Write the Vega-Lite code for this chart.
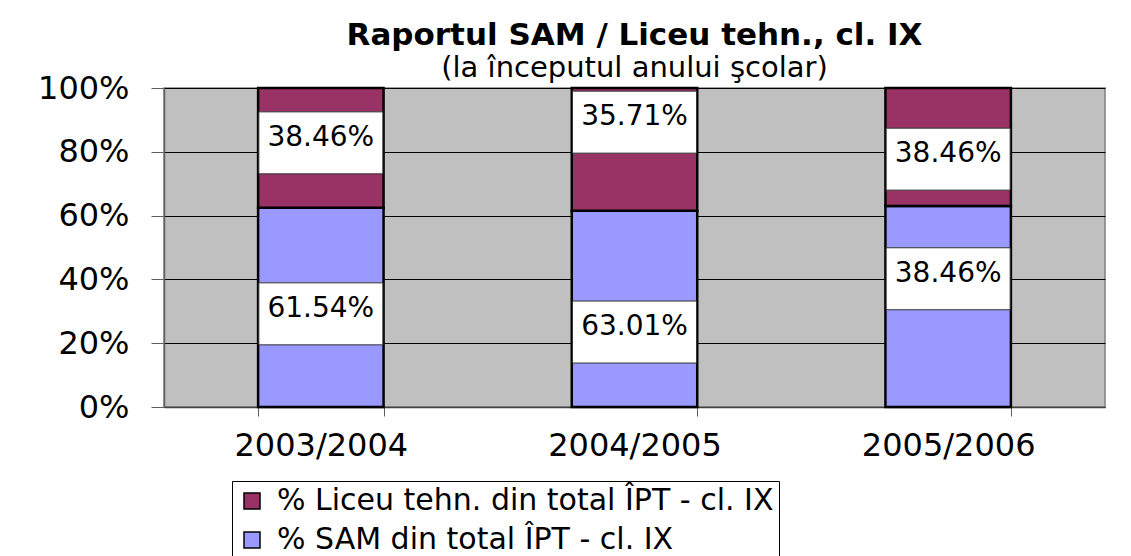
{
  "$schema": "https://vega.github.io/schema/vega-lite/v6.json",
  "width": 941,
  "height": 319,
  "autosize": {"type": "none"},
  "padding": {"left": 164, "top": 88, "right": 26, "bottom": 149},
  "background": "white",
  "title": {
    "text": "Raportul SAM / Liceu tehn., cl. IX",
    "subtitle": "(la începutul anului şcolar)",
    "font": "DejaVu Sans",
    "fontSize": 31,
    "fontWeight": "bold",
    "color": "black",
    "subtitleFont": "DejaVu Sans",
    "subtitleFontSize": 29,
    "subtitleColor": "black",
    "subtitlePadding": 2,
    "anchor": "middle",
    "frame": "group",
    "offset": -12
  },
  "data": {
    "values": [
      {"year": "2003/2004", "series": "% SAM din total ÎPT - cl. IX", "value": 62.5, "label": "61.54%", "labelY": 29.2},
      {"year": "2003/2004", "series": "% Liceu tehn. din total ÎPT - cl. IX", "value": 37.5, "label": "38.46%", "labelY": 82.8},
      {"year": "2004/2005", "series": "% SAM din total ÎPT - cl. IX", "value": 61.5, "label": "63.01%", "labelY": 23.5},
      {"year": "2004/2005", "series": "% Liceu tehn. din total ÎPT - cl. IX", "value": 38.5, "label": "35.71%", "labelY": 89.3},
      {"year": "2005/2006", "series": "% SAM din total ÎPT - cl. IX", "value": 63.0, "label": "38.46%", "labelY": 40.2},
      {"year": "2005/2006", "series": "% Liceu tehn. din total ÎPT - cl. IX", "value": 37.0, "label": "38.46%", "labelY": 77.7}
    ]
  },
  "encoding": {
    "x": {
      "field": "year",
      "type": "nominal",
      "scale": {"paddingInner": 0.6, "paddingOuter": 0.3},
      "axis": {
        "title": null,
        "labelAngle": 0,
        "labelFont": "DejaVu Sans",
        "labelFontSize": 32,
        "labelColor": "black",
        "labelPadding": 14,
        "tickBand": "extent",
        "tickSize": 9,
        "tickColor": "#606060",
        "domainColor": "#404040",
        "domainWidth": 1.5,
        "grid": false
      }
    }
  },
  "layer": [
    {
      "mark": {"type": "bar", "stroke": "black", "strokeWidth": 2.5},
      "encoding": {
        "y": {
          "field": "value",
          "type": "quantitative",
          "stack": true,
          "scale": {"domain": [0, 100], "nice": false},
          "axis": {
            "title": null,
            "values": [0, 20, 40, 60, 80, 100],
            "labelExpr": "datum.value + '%'",
            "labelFont": "DejaVu Sans",
            "labelFontSize": 32,
            "labelColor": "black",
            "labelPadding": 22,
            "tickSize": 13,
            "tickColor": "#606060",
            "domainColor": "#606060",
            "domainWidth": 1.5,
            "grid": true,
            "gridColor": "black",
            "gridWidth": 1
          }
        },
        "color": {
          "field": "series",
          "type": "nominal",
          "scale": {
            "domain": ["% Liceu tehn. din total ÎPT - cl. IX", "% SAM din total ÎPT - cl. IX"],
            "range": ["#993366", "#9999FF"]
          },
          "legend": {
            "orient": "none",
            "legendX": 68,
            "legendY": 393,
            "title": null,
            "strokeColor": "black",
            "fillColor": "white",
            "padding": 5,
            "symbolType": "square",
            "symbolSize": 256,
            "symbolStrokeColor": "black",
            "symbolStrokeWidth": 1.5,
            "labelFont": "DejaVu Sans",
            "labelFontSize": 30,
            "labelColor": "black",
            "labelLimit": 1000,
            "labelOffset": 10,
            "rowPadding": 9,
            "labelExpr": "datum.label + '\u2003\u2003\u2003\u2003\u2003\u2003\u2003\u2003\u2003'"
          }
        },
        "order": {"field": "series", "sort": "descending"}
      }
    },
    {
      "mark": {
        "type": "point",
        "shape": "M-1,-0.5L1,-0.5L1,0.5L-1,0.5Z",
        "size": 15376,
        "filled": true,
        "fill": "white",
        "stroke": "#333333",
        "strokeWidth": 1,
        "opacity": 1
      },
      "encoding": {
        "y": {"field": "labelY", "type": "quantitative", "stack": null}
      }
    },
    {
      "mark": {
        "type": "text",
        "font": "DejaVu Sans",
        "fontSize": 28,
        "color": "black",
        "baseline": "middle",
        "align": "center",
        "dy": -5
      },
      "encoding": {
        "y": {"field": "labelY", "type": "quantitative", "stack": null},
        "text": {"field": "label", "type": "nominal"}
      }
    }
  ],
  "config": {
    "view": {"fill": "#C0C0C0", "stroke": "#808080", "strokeWidth": 1.5}
  }
}
